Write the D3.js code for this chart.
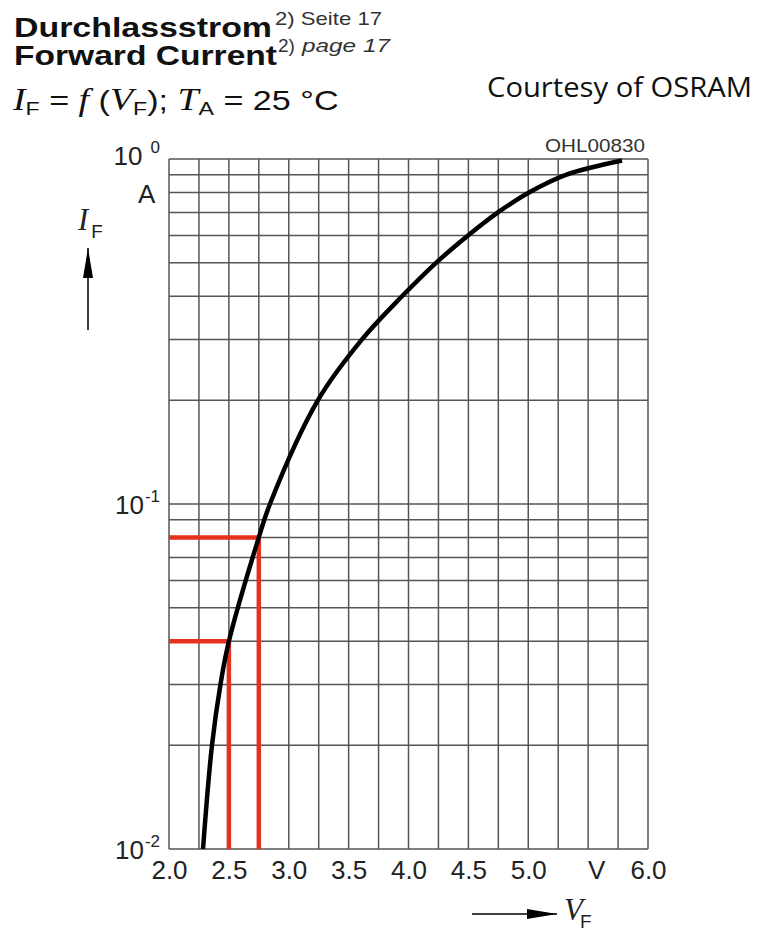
<!DOCTYPE html>
<html>
<head>
<meta charset="utf-8">
<script src="https://cdn.jsdelivr.net/npm/d3@7"></script>
<style>
  body { margin: 0; background: #fff; }
  svg { display: block; }
</style>
</head>
<body>
<svg id="chart" width="757" height="932"></svg>
<script>
// forward characteristic (at the grid crossings)
const forwardVoltage = [2.284, 2.359, 2.43, 2.5, 2.75, 2.843, 3.244, 3.612, 3.946, 4.23, 4.497, 4.747, 5.006, 5.315, 5.783];
const forwardCurrent = [0.01, 0.02, 0.03, 0.04, 0.08, 0.1, 0.2, 0.3, 0.4, 0.5, 0.6, 0.7, 0.8, 0.9, 0.99];

// red read-off markers
const markerVoltage = [2.5, 2.75];
const markerCurrent = [0.04, 0.08];

const xTickValues = [2.0, 2.5, 3.0, 3.5, 4.0, 4.5, 5.0, 5.5, 6.0];
const xTickLabels = ["2.0", "2.5", "3.0", "3.5", "4.0", "4.5", "5.0", "V", "6.0"];
const yTickValues = [0.01, 0.1, 1];
const yTickExponents = ["-2", "-1", "0"];

const SANS = "'Liberation Sans', Arial, Helvetica, sans-serif";
const SERIF = "'Liberation Serif', 'Times New Roman', serif";
const GRID = "#555";
const RED = "#e5321f";

const svg = d3.select("#chart");

const x = d3.scaleLinear().domain([2, 6]).range([169, 648]);
const y = d3.scaleLog().domain([0.01, 1]).range([849, 159]);

// grid: every 0.25 V, every 1..9 per decade
const vGrid = d3.range(2, 6.001, 0.25);
const hGrid = [];
[0.01, 0.1].forEach((decade) => {
  for (let k = 1; k <= 9; k++) hGrid.push(decade * k);
});
hGrid.push(1);

const grid = svg.append("g").attr("stroke", GRID).attr("stroke-width", 1.5);
grid.selectAll("line.v")
  .data(vGrid)
  .join("line")
  .attr("class", "v")
  .attr("x1", (d) => x(d)).attr("x2", (d) => x(d))
  .attr("y1", y(0.01)).attr("y2", y(1));
grid.selectAll("line.h")
  .data(hGrid)
  .join("line")
  .attr("class", "h")
  .attr("x1", x(2)).attr("x2", x(6))
  .attr("y1", (d) => y(d)).attr("y2", (d) => y(d));

// red marker lines
const markers = svg.append("g")
  .attr("stroke", RED)
  .attr("stroke-width", 4.5)
  .attr("fill", "none");
markerVoltage.forEach((v, i) => {
  const c = markerCurrent[i];
  markers.append("path")
    .attr("d", `M${x(2)},${y(c)}H${x(v)}V${y(0.01)}`);
});

// characteristic curve
const points = forwardVoltage.map((v, i) => [v, forwardCurrent[i]]);
const line = d3.line()
  .x((d) => x(d[0]))
  .y((d) => y(d[1]))
  .curve(d3.curveCatmullRom.alpha(0.5));
svg.append("path")
  .datum(points)
  .attr("d", line)
  .attr("fill", "none")
  .attr("stroke", "#000")
  .attr("stroke-width", 4.5)
  .attr("stroke-linecap", "butt");

// x tick labels
const xAxis = d3.axisBottom(x)
  .tickValues(xTickValues)
  .tickFormat((d, i) => xTickLabels[i])
  .tickSize(0)
  .tickPadding(12);
const gx = svg.append("g")
  .attr("transform", `translate(0,${y(0.01)})`)
  .call(xAxis);
gx.select(".domain").remove();
gx.selectAll("text")
  .attr("font-family", SANS)
  .attr("font-size", 26)
  .attr("fill", "#222")
  .attr("dx", (d) => (d === 5.5 ? 8 : 0));

// y tick labels as powers of ten
const yLabels = svg.append("g")
  .attr("font-family", SANS)
  .attr("fill", "#222");
yTickValues.forEach((v, i) => {
  const t = yLabels.append("text")
    .attr("x", 160)
    .attr("y", y(v) + 10 - (v === 1 ? 4 : 0))
    .attr("text-anchor", "end")
    .attr("font-size", 26);
  t.append("tspan").text("10");
  t.append("tspan")
    .attr("font-size", 17)
    .attr("dy", -12)
    .attr("dx", v === 1 ? 8 : 1)
    .text(yTickExponents[i]);
});
yLabels.append("text")
  .attr("x", 138).attr("y", 203)
  .attr("font-size", 26)
  .text("A");

svg.append("text")
  .attr("x", 545).attr("y", 152)
  .attr("font-family", SANS)
  .attr("font-size", 19)
  .attr("fill", "#333")
  .attr("textLength", 100)
  .attr("lengthAdjust", "spacingAndGlyphs")
  .text("OHL00830");

// axis name arrows
svg.append("defs").append("marker")
  .attr("id", "head")
  .attr("viewBox", "0 0 30 10")
  .attr("refX", 30).attr("refY", 5)
  .attr("markerWidth", 30).attr("markerHeight", 10)
  .attr("markerUnits", "userSpaceOnUse")
  .attr("orient", "auto")
  .append("path")
  .attr("d", "M0,0L30,5L0,10Z")
  .attr("fill", "#000");

svg.append("line")
  .attr("x1", 88).attr("y1", 330).attr("x2", 88).attr("y2", 248)
  .attr("stroke", "#000").attr("stroke-width", 1.5)
  .attr("marker-end", "url(#head)");
svg.append("line")
  .attr("x1", 472).attr("y1", 914).attr("x2", 557).attr("y2", 914)
  .attr("stroke", "#000").attr("stroke-width", 1.5)
  .attr("marker-end", "url(#head)");

function symbol(px, py, main, sub, subDx, subDy) {
  const t = svg.append("text").attr("x", px).attr("y", py).attr("fill", "#222");
  t.append("tspan")
    .attr("font-family", SERIF).attr("font-style", "italic").attr("font-size", 31)
    .text(main);
  t.append("tspan")
    .attr("font-family", SANS).attr("font-size", 19)
    .attr("dx", subDx).attr("dy", subDy)
    .text(sub);
}
symbol(78, 230, "I", "F", 3, 8);
symbol(564, 920, "V", "F", -3, 8);

// header
const title = svg.append("g").attr("font-family", SANS).attr("fill", "#111");
title.append("text")
  .attr("x", 14).attr("y", 37)
  .attr("font-size", 28).attr("font-weight", "bold")
  .attr("textLength", 258).attr("lengthAdjust", "spacingAndGlyphs")
  .text("Durchlassstrom");
title.append("text")
  .attr("x", 275).attr("y", 25)
  .attr("font-size", 19).attr("fill", "#333")
  .attr("textLength", 107).attr("lengthAdjust", "spacingAndGlyphs")
  .text("2) Seite 17");
title.append("text")
  .attr("x", 14).attr("y", 65)
  .attr("font-size", 28).attr("font-weight", "bold")
  .attr("textLength", 263).attr("lengthAdjust", "spacingAndGlyphs")
  .text("Forward Current");
title.append("text")
  .attr("x", 278).attr("y", 52)
  .attr("font-size", 19).attr("fill", "#333")
  .text("2)");
title.append("text")
  .attr("x", 302).attr("y", 52)
  .attr("font-size", 19).attr("font-style", "italic").attr("fill", "#333")
  .attr("textLength", 88).attr("lengthAdjust", "spacingAndGlyphs")
  .text("page 17");

// I_F = f (V_F); T_A = 25 °C, laid out naturally then fitted to the line width
const formulaParts = [
  { t: "I", serif: true },
  { t: "F", sub: true },
  { t: " = " },
  { t: "f", serif: true },
  { t: " (" },
  { t: "V", serif: true },
  { t: "F", sub: true },
  { t: "); " },
  { t: "T", serif: true },
  { t: "A", sub: true },
  { t: " = 25 °C" }
];
const formula = svg.append("text").attr("x", 0).attr("y", 0).attr("fill", "#111");
let lowered = false;
formulaParts.forEach((p) => {
  const s = formula.append("tspan")
    .attr("font-family", p.serif ? SERIF : SANS)
    .attr("font-style", p.serif ? "italic" : null)
    .attr("font-size", p.sub ? 19 : p.serif ? 31 : 28)
    .style("white-space", "pre")
    .text(p.t);
  if (p.sub && !lowered) { s.attr("dy", 5); lowered = true; }
  else if (!p.sub && lowered) { s.attr("dy", -5); lowered = false; }
});
formula.attr("xml:space", "preserve");
const fw = formula.node().getBBox().width;
formula.attr("transform", `translate(13,110) scale(${327 / fw},1)`);

svg.append("text")
  .attr("x", 487).attr("y", 97)
  .attr("font-family", "'Open Sans', 'Noto Sans', sans-serif")
  .attr("font-size", 27)
  .attr("fill", "#111")
  .attr("textLength", 265).attr("lengthAdjust", "spacingAndGlyphs")
  .text("Courtesy of OSRAM");
</script>
</body>
</html>
